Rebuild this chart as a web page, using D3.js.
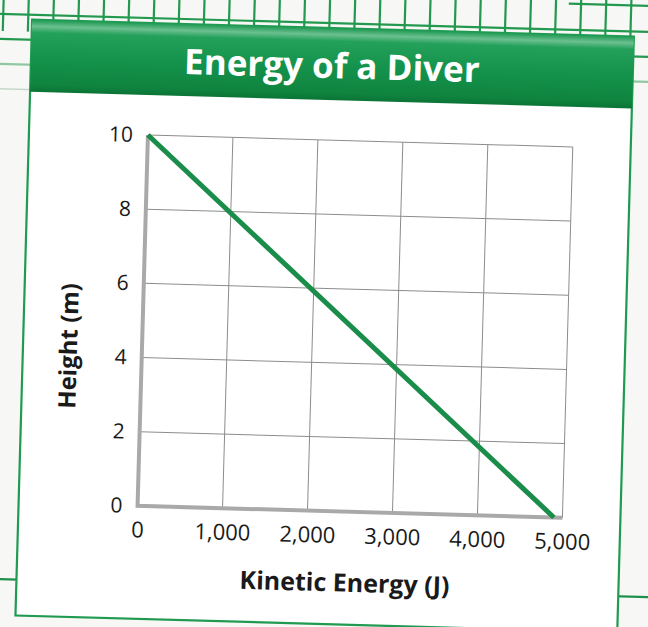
<!DOCTYPE html>
<html>
<head>
<meta charset="utf-8">
<script src="https://cdn.jsdelivr.net/npm/d3@7"></script>
<style>
  html, body { margin: 0; padding: 0; background: #f7f7f5; }
  svg { display: block; }
  text { font-family: "Open Sans", "Noto Sans", sans-serif; }
</style>
</head>
<body>
<svg id="chart" width="648" height="627"></svg>
<script>
// ---- data ----
const chartTitle = "Energy of a Diver";
const xAxisTitle = "Kinetic Energy (J)";
const yAxisTitle = "Height (m)";
const xTickValues = [0, 1000, 2000, 3000, 4000, 5000];
const yTickValues = [0, 2, 4, 6, 8, 10];
const kineticEnergy = [0, 4900];
const heightMeters = [10, 0];

// ---- drawing ----
const W = 648, H = 627;
const svg = d3.select("#chart");

const defs = svg.append("defs");
const hdr = defs.append("linearGradient").attr("id", "hdrGrad")
  .attr("x1", 0).attr("y1", 0).attr("x2", 0).attr("y2", 1);
[[0, "#1d9952"], [0.09, "#6cc090"], [0.18, "#23a05a"], [0.55, "#14924b"], [0.9, "#0f843f"], [1, "#0b7436"]]
  .forEach(([o, c]) => hdr.append("stop").attr("offset", o).attr("stop-color", c));

svg.append("rect").attr("width", W).attr("height", H).attr("fill", "#f7f7f5");

// whole scanned page is slightly rotated
const page = svg.append("g").attr("transform", "rotate(1.6,324,314)");

// graph-paper lines behind the figure
const paper = page.append("g").attr("stroke", "#23994f").attr("stroke-width", 2.2);
paper.selectAll("line.v").data(d3.range(0, 27)).join("line")
  .attr("x1", i => -5 + 25.1 * i).attr("x2", i => -5 + 25.1 * i)
  .attr("y1", -20).attr("y2", 40);
paper.append("line").attr("x1", -30).attr("x2", 680).attr("y1", 23).attr("y2", 23);
paper.append("line").attr("x1", 560).attr("x2", 680).attr("y1", -3).attr("y2", -3);
paper.append("line").attr("x1", -30).attr("x2", 680).attr("y1", 48).attr("y2", 48);
paper.append("line").attr("x1", -30).attr("x2", 680).attr("y1", 73).attr("y2", 73)
  .attr("stroke", "#8fc9a2");
paper.append("line").attr("x1", -30).attr("x2", 300).attr("y1", 98).attr("y2", 98)
  .attr("stroke", "#c5d8cb").attr("stroke-width", 1.5);
paper.append("line").attr("x1", -30).attr("x2", 680).attr("y1", 588).attr("y2", 588)
  .attr("stroke", "#1f8f4c");

// white box with green border
page.append("rect").attr("x", 24).attr("y", 28).attr("width", 602).attr("height", 596)
  .attr("fill", "#ffffff").attr("stroke", "#1f9a50").attr("stroke-width", 2.2);

// header band
page.append("rect").attr("x", 24).attr("y", 28).attr("width", 602).attr("height", 72)
  .attr("fill", "url(#hdrGrad)");
page.append("text").attr("x", 325).attr("y", 78)
  .attr("text-anchor", "middle").attr("fill", "#ffffff")
  .attr("font-size", 35).attr("font-weight", 700)
  .text(chartTitle);

// plot
const x = d3.scaleLinear().domain([0, 5000]).range([143, 568]);
const y = d3.scaleLinear().domain([0, 10]).range([511, 140]);

const grid = page.append("g").attr("stroke", "#8c8c8c").attr("stroke-width", 1);
grid.selectAll("line.gx").data(xTickValues.filter(d => d > 0)).join("line")
  .attr("x1", d => x(d)).attr("x2", d => x(d))
  .attr("y1", y(10)).attr("y2", y(0));
grid.selectAll("line.gy").data(yTickValues.filter(d => d > 0)).join("line")
  .attr("x1", x(0)).attr("x2", x(5000))
  .attr("y1", d => y(d)).attr("y2", d => y(d));

// thick gray axes (left and bottom)
page.append("path")
  .attr("d", `M${x(0)},${y(10)}L${x(0)},${y(0)}L${x(5000)},${y(0)}`)
  .attr("fill", "none").attr("stroke", "#a9a9a9").attr("stroke-width", 4);

// data line
const lineGen = d3.line().x(d => x(d[0])).y(d => y(d[1]));
page.append("path")
  .datum(kineticEnergy.map((k, i) => [k, heightMeters[i]]))
  .attr("d", lineGen)
  .attr("fill", "none").attr("stroke", "#1b8d4b").attr("stroke-width", 5);

// tick labels via d3 axes
const yAxis = page.append("g").attr("transform", `translate(${x(0)},0)`)
  .call(d3.axisLeft(y).tickValues(yTickValues).tickSize(0).tickPadding(15));
yAxis.select(".domain").remove();
yAxis.selectAll("text").attr("font-size", 21).attr("fill", "#1a1a1a")
  .style("font-family", '"Open Sans", sans-serif');

const xAxis = page.append("g").attr("transform", `translate(0,${y(0)})`)
  .call(d3.axisBottom(x).tickValues(xTickValues).tickFormat(d3.format(",")).tickSize(0).tickPadding(16));
xAxis.select(".domain").remove();
xAxis.selectAll("text").attr("font-size", 22).attr("fill", "#1a1a1a")
  .style("font-family", '"Open Sans", sans-serif');

// axis titles
page.append("text").attr("x", 352).attr("y", 591)
  .attr("text-anchor", "middle").attr("fill", "#1a1a1a")
  .attr("font-size", 25).attr("font-weight", 700)
  .text(xAxisTitle);
page.append("text")
  .attr("transform", "translate(78,353) rotate(-90)")
  .attr("text-anchor", "middle").attr("fill", "#1a1a1a")
  .attr("font-size", 24).attr("font-weight", 700)
  .text(yAxisTitle);
</script>
</body>
</html>
